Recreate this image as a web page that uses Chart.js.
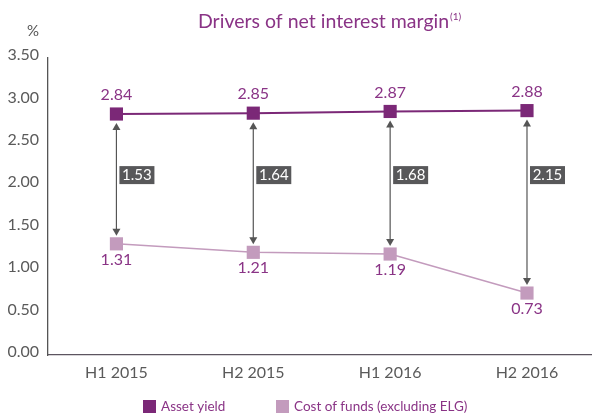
<!DOCTYPE html>
<html>
<head>
<meta charset="utf-8">
<script src="https://cdn.jsdelivr.net/npm/chart.js@4/dist/chart.umd.min.js"></script>
<style>
  html, body { margin: 0; padding: 0; background: #fff; }
</style>
</head>
<body>
<canvas id="myChart" width="592" height="416"></canvas>
<script>
// datos
var periods = ['H1 2015', 'H2 2015', 'H1 2016', 'H2 2016'];
var assetYield = [2.84, 2.85, 2.87, 2.88];
var costOfFunds = [1.31, 1.21, 1.19, 0.73];
var spread = [1.53, 1.64, 1.68, 2.15];
var yTicks = [0, 0.5, 1, 1.5, 2, 2.5, 3, 3.5];
var seriesNames = ['Asset yield', 'Cost of funds (excluding ELG)'];

var purple = '#7b2877';
var pink = '#c39bbd';
var textPurple = '#8a3486';
var grey = '#555555';
var fontFam = 'Lato, "Open Sans", sans-serif';

Chart.defaults.font.family = fontFam;

// flechas, cajas con la diferencia y etiquetas de valores
var annotPlugin = {
    id: 'annot',
    afterDatasetsDraw: function (chart) {
        var ctx = chart.ctx;
        var xs = chart.scales.x, ys = chart.scales.y;
        ctx.save();
        periods.forEach(function (p, i) {
            var x = xs.getPixelForValue(i);
            var yTop = ys.getPixelForValue(assetYield[i]) + 9;
            var yBot = ys.getPixelForValue(costOfFunds[i]) - 8;
            ctx.strokeStyle = grey;
            ctx.fillStyle = grey;
            ctx.lineWidth = 1.2;
            ctx.beginPath();
            ctx.moveTo(x, yTop + 6);
            ctx.lineTo(x, yBot - 6);
            ctx.stroke();
            ctx.beginPath();
            ctx.moveTo(x, yTop);
            ctx.lineTo(x - 4, yTop + 7);
            ctx.lineTo(x + 4, yTop + 7);
            ctx.closePath();
            ctx.fill();
            ctx.beginPath();
            ctx.moveTo(x, yBot);
            ctx.lineTo(x - 4, yBot - 7);
            ctx.lineTo(x + 4, yBot - 7);
            ctx.closePath();
            ctx.fill();
            var by = ys.getPixelForValue(2.12);
            ctx.fillStyle = '#58585a';
            ctx.fillRect(x + 3, by - 9, 35, 18);
            ctx.fillStyle = '#ffffff';
            ctx.font = '15px ' + fontFam;
            ctx.textAlign = 'center';
            ctx.textBaseline = 'middle';
            ctx.fillText(spread[i].toFixed(2), x + 20.5, by + 0.5);
            ctx.fillStyle = textPurple;
            ctx.font = '16px ' + fontFam;
            ctx.fillText(assetYield[i].toFixed(2), x, ys.getPixelForValue(assetYield[i]) - 19);
            ctx.fillText(costOfFunds[i].toFixed(2), x, ys.getPixelForValue(costOfFunds[i]) + 16);
        });
        ctx.restore();
    },
    afterDraw: function (chart) {
        var ctx = chart.ctx;
        ctx.save();
        // titulo con nota (1)
        ctx.fillStyle = textPurple;
        ctx.font = '19.5px ' + fontFam;
        ctx.textAlign = 'left';
        ctx.textBaseline = 'alphabetic';
        var t = 'Drivers of net interest margin';
        ctx.fillText(t, 198, 28);
        var w = ctx.measureText(t).width;
        ctx.font = '10px ' + fontFam;
        ctx.fillText('(1)', 198 + w + 1, 20);
        // unidad del eje
        ctx.fillStyle = grey;
        ctx.font = '15px ' + fontFam;
        ctx.textAlign = 'center';
        ctx.textBaseline = 'middle';
        ctx.fillText('%', 33, 31);
        // leyenda
        var colors = [purple, pink];
        var lx = [143, 276];
        ctx.textAlign = 'left';
        ctx.font = '13.5px ' + fontFam;
        seriesNames.forEach(function (n, i) {
            ctx.fillStyle = colors[i];
            ctx.fillRect(lx[i], 400, 13, 13);
            ctx.fillStyle = textPurple;
            ctx.fillText(n, lx[i] + 18, 407);
        });
        ctx.restore();
    }
};

window.onload = function () {
    var ctx = document.querySelector('#myChart').getContext('2d');
    var myChart = new Chart(ctx, {
        type: 'line',
        data: {
            datasets: [{
                label: seriesNames[0],
                data: periods.map(function (p, i) { return { x: i, y: assetYield[i] }; }),
                borderColor: purple,
                backgroundColor: purple,
                borderWidth: 2,
                pointStyle: 'rect',
                pointRadius: 9.3,
                pointBorderWidth: 0
            }, {
                label: seriesNames[1],
                data: periods.map(function (p, i) { return { x: i, y: costOfFunds[i] }; }),
                borderColor: pink,
                backgroundColor: pink,
                borderWidth: 1.5,
                pointStyle: 'rect',
                pointRadius: 9.3,
                pointBorderWidth: 0
            }]
        },
        options: {
            responsive: false,
            animation: false,
            layout: { autoPadding: false, padding: { top: 58, right: 0, bottom: 0, left: 0 } },
            plugins: {
                legend: { display: false },
                title: { display: false },
                tooltip: { enabled: false }
            },
            scales: {
                x: {
                    type: 'linear',
                    min: -0.5,
                    max: 3.475,
                    afterBuildTicks: function (s) {
                        s.ticks = periods.map(function (p, i) { return { value: i }; });
                    },
                    afterFit: function (s) { s.height = 61; },
                    grid: { display: false, drawTicks: false },
                    border: { color: '#5c5560', width: 1.3 },
                    ticks: {
                        padding: 8,
                        color: '#5a5a5a',
                        font: { size: 16 },
                        callback: function (v) { return periods[v]; }
                    }
                },
                y: {
                    min: 0,
                    max: 3.5,
                    afterBuildTicks: function (s) {
                        s.ticks = yTicks.map(function (v) { return { value: v }; });
                    },
                    afterFit: function (s) { s.width = 48; },
                    grid: { display: false, drawTicks: false },
                    border: { color: grey, width: 1.3 },
                    ticks: {
                        padding: 9,
                        labelOffset: -3,
                        color: '#5a5a5a',
                        font: { size: 16 },
                        callback: function (v) { return v.toFixed(2); }
                    }
                }
            }
        },
        plugins: [annotPlugin]
    });
};
</script>
</body>
</html>
